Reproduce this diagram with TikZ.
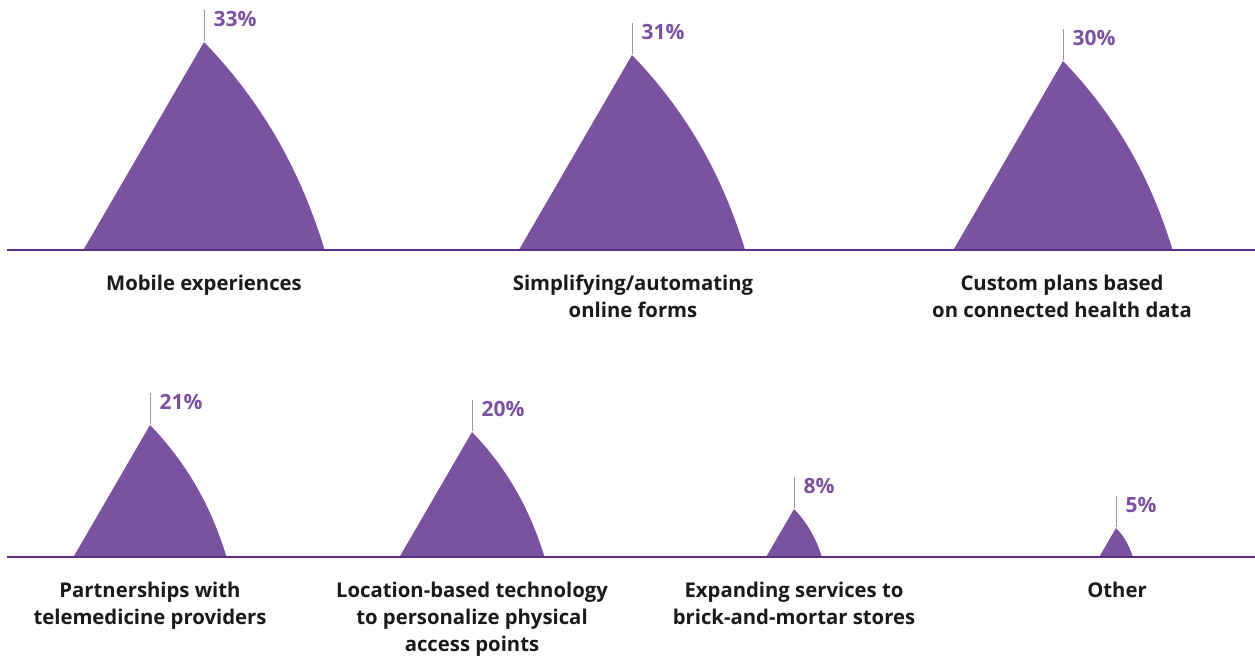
\documentclass[tikz,border=0pt]{standalone}
\usepackage{fontspec}
\setmainfont{Open Sans}
\definecolor{spikepurple}{HTML}{7B52A0}
\definecolor{basepurple}{HTML}{5E2D86}
\definecolor{tickpurple}{HTML}{A68AC2}
\definecolor{labelblack}{HTML}{1A1A1A}
\newcommand{\spike}[5]{%
  \pgfmathsetmacro\spkw{0.58*#3}%
  \pgfmathsetmacro\spkt{#2-#3}%
  \fill[spikefill] ({#1-\spkw},#2) -- (#1,\spkt)
    .. controls ({#1+0.49*\spkw},{\spkt+0.295*#3}) and ({#1+0.80*\spkw},{\spkt+0.62*#3}) .. ({#1+\spkw},#2) -- cycle;
  \coordinate (#4-top) at (#1,{\spkt-1.5});
  \coordinate (#4-tick) at (#1,{\spkt-32});
  \draw[tickline] (#4-top) -- (#4-tick);
  \node[pct, anchor=base west] (#4) at ({#1+9.5},{\spkt-32+16}) {#5};
}
\begin{document}
\begin{tikzpicture}[x=1pt,y=-1pt,
  spikefill/.style={fill=spikepurple},
  tickline/.style={draw=tickpurple, line width=1pt},
  baseline/.style={draw=basepurple, line width=1.6pt},
  pct/.style={text=spikepurple, font=\fontsize{21}{24}\selectfont\bfseries, inner sep=0pt},
  catlabel/.style={text=labelblack, font=\fontsize{20.3}{26.8}\selectfont\bfseries, align=center, inner sep=0pt, anchor=north}]
\useasboundingbox (0,0) rectangle (1255,659);
\fill[white] (0,0) rectangle (1255,659);
% top row
\spike{204}{250}{208}{p1}{33\%}
\spike{632}{250}{195}{p2}{31\%}
\spike{1063}{250}{189}{p3}{30\%}
\coordinate (b1l) at (7,250);
\coordinate (b1r) at (1255,250);
\draw[baseline] (b1l) -- (b1r);
% bottom row
\spike{150}{557}{132}{p4}{21\%}
\spike{472}{557}{125}{p5}{20\%}
\spike{794}{557}{48}{p6}{8\%}
\spike{1116}{557}{29}{p7}{5\%}
\coordinate (b2l) at (7,557);
\coordinate (b2r) at (1255,557);
\draw[baseline] (b2l) -- (b2r);
% labels
\node[catlabel] (l1) at (204,275) {Mobile experiences};
\node[catlabel] (l2) at (633,275) {Simplifying/automating\\online forms};
\node[catlabel] (l3) at (1062,275) {Custom plans based\\on connected health data};
\node[catlabel] (l4) at (150,582) {Partnerships with\\telemedicine providers};
\node[catlabel] (l5) at (472,582) {Location-based technology\\to personalize physical\\access points};
\node[catlabel] (l6) at (794,582) {Expanding services to\\brick-and-mortar stores};
\node[catlabel] (l7) at (1117,582) {Other};
\end{tikzpicture}
\end{document}
